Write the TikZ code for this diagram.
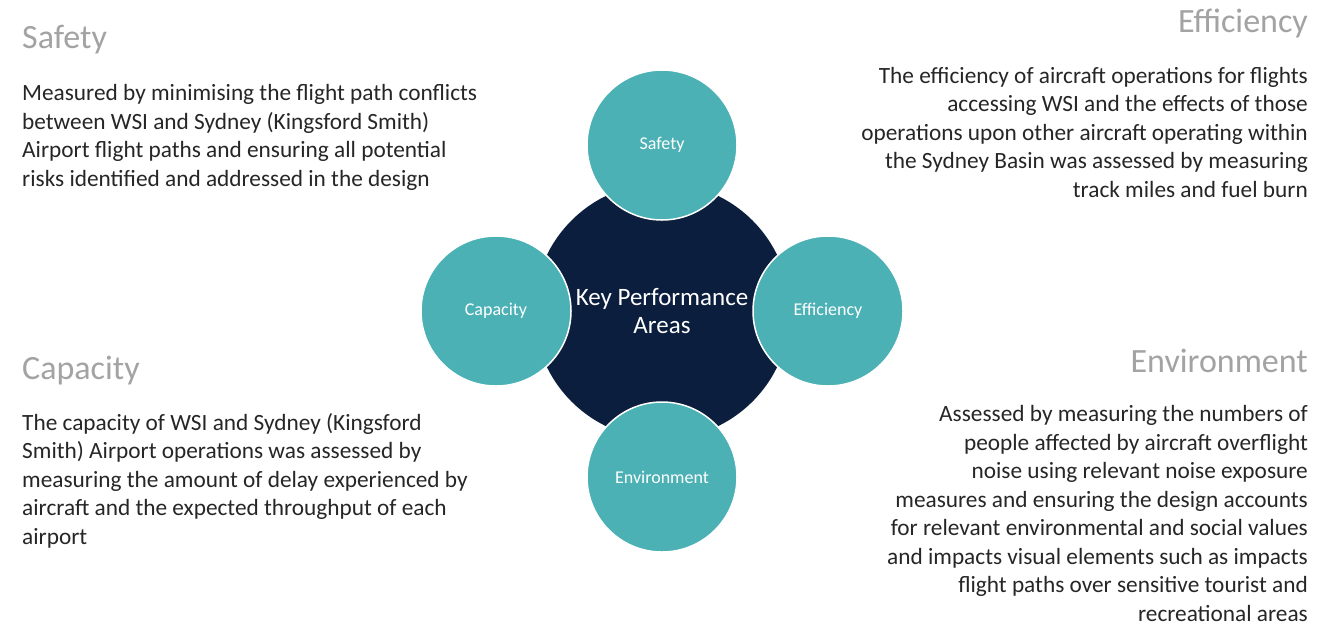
\documentclass[tikz,border=0pt]{standalone}
\usepackage{fontspec}
\setmainfont{Carlito}
\usepackage{tikz}
\usetikzlibrary{positioning}
\definecolor{kpateal}{HTML}{4BB1B5}
\definecolor{kpanavy}{HTML}{0B1E3D}
\definecolor{headgray}{HTML}{A3A3A3}
\definecolor{bodygray}{HTML}{262626}
\tikzstyle{area}=[circle, fill=kpateal, draw=white, line width=1.5pt, minimum size=150pt,
  text=white, font=\fontsize{18}{21}\selectfont]
\tikzstyle{heading}=[text=headgray, inner sep=0pt, font=\fontsize{34}{40}\selectfont]
\tikzstyle{body}=[text=bodygray, inner sep=0pt, font=\fontsize{23.3}{28.5}\selectfont]

\begin{document}
\begin{tikzpicture}[x=1pt, y=-1pt]
  \useasboundingbox[fill=white] (0,0) rectangle (1324,625);
  % centre
  \node[circle, fill=kpanavy, minimum size=256pt, text=white, align=center,
    font=\fontsize{25}{28}\selectfont] (kpa) at (662,311) {Key Performance\\Areas};
  % four areas
  \node[area, on grid, above=166pt of kpa] (safety) {Safety};
  \node[area, on grid, right=166pt of kpa] (efficiency) {Efficiency};
  \node[area, on grid, below=166pt of kpa] (environment) {Environment};
  \node[area, on grid, left=166pt of kpa] (capacity) {Capacity};
  % Safety (base = last line)
  \node[heading, anchor=base west] (safetyhead) at (22,48) {Safety};
  \node[body, align=left, anchor=base west] (safetytext) at (22,186)
    {Measured by minimising the flight path conflicts\\
     between WSI and Sydney (Kingsford Smith)\\
     Airport flight paths and ensuring all potential\\
     risks identified and addressed in the design};
  % Efficiency
  \node[heading, anchor=base east] (efficiencyhead) at (1308,32) {Efficiency};
  \node[body, align=right, anchor=base east] (efficiencytext) at (1308,197)
    {The efficiency of aircraft operations for flights\\
     accessing WSI and the effects of those\\
     operations upon other aircraft operating within\\
     the Sydney Basin was assessed by measuring\\
     track miles and fuel burn};
  % Capacity
  \node[heading, anchor=base west] (capacityhead) at (22,379) {Capacity};
  \node[body, align=left, anchor=base west] (capacitytext) at (22,544)
    {The capacity of WSI and Sydney (Kingsford\\
     Smith) Airport operations was assessed by\\
     measuring the amount of delay experienced by\\
     aircraft and the expected throughput of each\\
     airport};
  % Environment
  \node[heading, anchor=base east] (environmenthead) at (1308,372) {Environment};
  \node[body, align=right, anchor=base east] (environmenttext) at (1308,621)
    {Assessed by measuring the numbers of\\
     people affected by aircraft overflight\\
     noise using relevant noise exposure\\
     measures and ensuring the design accounts\\
     for relevant environmental and social values\\
     and impacts visual elements such as impacts\\
     flight paths over sensitive tourist and\\
     recreational areas};
\end{tikzpicture}
\end{document}
